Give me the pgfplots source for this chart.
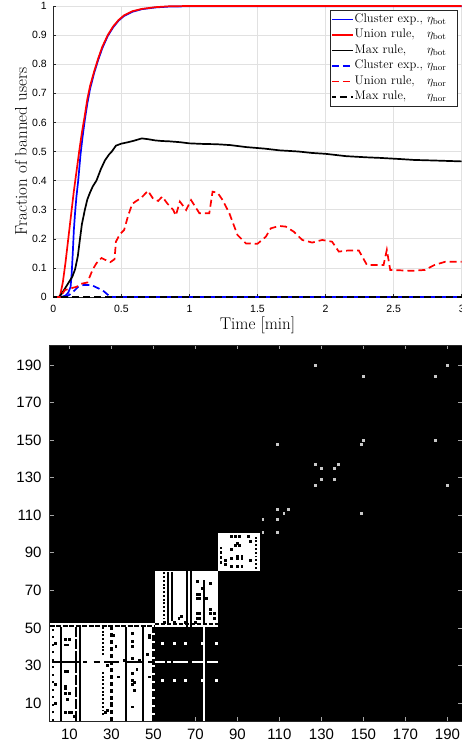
\documentclass[border=0pt]{standalone}
\usepackage{fontspec}
\usepackage{pgfplots}
\pgfplotsset{compat=1.18}
\newfontfamily\helv{Liberation Sans}
\definecolor{axgray}{RGB}{38,38,38}
\definecolor{gridgray}{RGB}{225,225,225}
\definecolor{mblue}{RGB}{0,0,255}
\definecolor{mred}{RGB}{255,0,0}
\definecolor{dotgray}{RGB}{200,200,200}
\newcommand{\pad}{\hspace*{9pt}}
\begin{document}
\begin{tikzpicture}
\begin{axis}[
  name=top, at={(0pt,0pt)}, anchor=south west,
  scale only axis, width=408.4pt, height=291pt,
  xmin=0, xmax=3, ymin=0, ymax=1,
  xtick={0,0.5,1,1.5,2,2.5,3}, xticklabels={0,0.5,1,1.5,2,2.5,3},
  ytick={0,0.1,0.2,0.3,0.4,0.5,0.6,0.7,0.8,0.9,1},
  yticklabels={0,0.1,0.2,0.3,0.4,0.5,0.6,0.7,0.8,0.9,1},
  axis x line*=bottom, axis y line*=left,
  axis line style={axgray, line width=0.6pt, -},
  tick align=inside, major tick length=3pt, tick style={axgray, line width=0.5pt},
  grid=major, grid style={gridgray, line width=0.6pt},
  ticklabel style={font=\helv\fontsize{10.5}{12}\selectfont},
  /pgf/number format/assume math mode=true,
  xticklabel style={yshift=-5pt}, yticklabel style={xshift=-3pt},
  xlabel={Time [min]}, ylabel={Fraction of banned users},
  label style={font=\fontsize{17}{20}\selectfont},
  xlabel style={at={(axis description cs:0.5,-0.0687)}, anchor=north, inner sep=0pt},
  ylabel style={at={(axis description cs:-0.0637,0.5)}, anchor=south, inner sep=0pt},
  legend style={at={(1,1)}, anchor=north east, xshift=-4pt, yshift=-4pt,
    draw=axgray, fill=white,
    font=\fontsize{12.5}{15}\selectfont, inner xsep=1pt, inner ysep=1.5pt,
    row sep=0pt, column sep=0pt,
    nodes={inner xsep=1pt, inner ysep=0.5pt, text height=10.3pt, text depth=4.2pt}},
  legend cell align=left,
  legend image code/.code={\draw[line width=1.7pt, #1] (0pt,0pt) -- (21pt,0pt);},
  clip=false,
]
\addplot[mblue, line width=1.7pt] coordinates {
(0,0) (0.06,0) (0.09,0.005) (0.11,0.015) (0.127,0.035) (0.135,0.08) (0.143,0.15)
(0.151,0.23) (0.16,0.29) (0.17,0.345) (0.183,0.40) (0.2,0.49) (0.215,0.55)
(0.232,0.61) (0.25,0.665) (0.27,0.715) (0.30,0.77) (0.33,0.815) (0.36,0.855)
(0.40,0.897) (0.44,0.927) (0.48,0.95) (0.52,0.966) (0.58,0.98) (0.65,0.989)
(0.75,0.995) (0.85,0.998) (1.0,0.999) (3,0.999)};
\addlegendentry{Cluster exp., $\eta_{\mathrm{bot}}$\pad}
\addplot[mred, line width=1.7pt] coordinates {
(0,0) (0.045,0) (0.05,0.005) (0.07,0.05) (0.09,0.12) (0.11,0.2) (0.13,0.28)
(0.15,0.36) (0.17,0.43) (0.19,0.5) (0.21,0.565) (0.23,0.62) (0.25,0.68)
(0.27,0.725) (0.30,0.775) (0.33,0.82) (0.36,0.86) (0.40,0.9) (0.44,0.93)
(0.48,0.952) (0.52,0.968) (0.58,0.982) (0.65,0.99) (0.75,0.996) (0.85,0.999)
(1.0,1) (3,1)};
\addlegendentry{\rlap{Union rule,}\phantom{Cluster exp.,} $\eta_{\mathrm{bot}}$\pad}
\addplot[black, line width=1.7pt] coordinates {
(0,0) (0.04,0) (0.06,0.01) (0.08,0.025) (0.10,0.04) (0.12,0.055) (0.14,0.07)
(0.16,0.095) (0.18,0.14) (0.195,0.196) (0.21,0.25) (0.232,0.30) (0.25,0.335)
(0.268,0.357) (0.29,0.38) (0.317,0.40) (0.35,0.44) (0.38,0.47) (0.41,0.49)
(0.43,0.50) (0.46,0.52) (0.5,0.527) (0.55,0.532) (0.6,0.538) (0.65,0.545)
(0.7,0.542) (0.75,0.538) (0.8,0.536) (0.85,0.535) (0.93,0.532) (1.0,0.528)
(1.1,0.526) (1.2,0.525) (1.3,0.522) (1.42,0.515) (1.55,0.51) (1.66,0.504)
(1.8,0.5) (1.9,0.495) (2.0,0.492) (2.15,0.484) (2.3,0.48) (2.4,0.478)
(2.55,0.474) (2.65,0.471) (2.8,0.469) (3.0,0.466)};
\addlegendentry{\rlap{Max rule,}\phantom{Cluster exp.,} $\eta_{\mathrm{bot}}$\pad}
\addplot[mblue, line width=1.7pt, dash pattern=on 7pt off 4pt] coordinates {
(0,0) (0.09,0) (0.12,0.008) (0.146,0.018) (0.183,0.035) (0.22,0.041)
(0.28,0.041) (0.33,0.03) (0.37,0.02) (0.415,0.002) (0.44,0) (3,0)};
\addlegendentry{Cluster exp., $\eta_{\mathrm{nor}}$\pad}
\addplot[mred, line width=1.7pt, dash pattern=on 7pt off 4pt] coordinates {
(0,0) (0.05,0) (0.086,0.024) (0.13,0.03) (0.171,0.035) (0.2,0.045) (0.232,0.048)
(0.25,0.05) (0.268,0.07) (0.29,0.095) (0.317,0.116) (0.354,0.134) (0.38,0.128)
(0.42,0.12) (0.45,0.13) (0.46,0.19) (0.488,0.215) (0.52,0.23) (0.55,0.28)
(0.58,0.32) (0.61,0.33) (0.645,0.34) (0.695,0.365) (0.73,0.34) (0.77,0.33)
(0.8,0.345) (0.84,0.32) (0.88,0.30) (0.90,0.28) (0.93,0.328) (0.976,0.299)
(1.012,0.333) (1.073,0.288) (1.146,0.288) (1.17,0.362) (1.207,0.358)
(1.244,0.333) (1.293,0.288) (1.353,0.213) (1.415,0.184) (1.5,0.183)
(1.561,0.207) (1.598,0.236) (1.658,0.244) (1.707,0.242) (1.768,0.224)
(1.829,0.196) (1.902,0.187) (1.975,0.196) (2.048,0.19) (2.097,0.156)
(2.17,0.16) (2.244,0.16) (2.304,0.11) (2.365,0.11) (2.426,0.11) (2.45,0.162)
(2.475,0.093) (2.634,0.09) (2.73,0.093) (2.80,0.11) (2.878,0.121) (3,0.121)};
\addlegendentry{\rlap{Union rule,}\phantom{Cluster exp.,} $\eta_{\mathrm{nor}}$\pad}
\addplot[black, line width=1.7pt, dash pattern=on 7pt off 4pt, dash phase=3pt] coordinates {
(0,0) (3,0)};
\addlegendentry{\rlap{Max rule,}\phantom{Cluster exp.,} $\eta_{\mathrm{nor}}$\pad}
\end{axis}

\begin{axis}[
  name=bot, at={(-3.8pt,-423.8pt)}, anchor=south west,
  scale only axis, width=412.65pt, height=375.6pt,
  xmin=0.5, xmax=197, ymin=0.5, ymax=200.5,
  axis background/.style={fill=black},
  xtick={10,30,...,190}, ytick={10,30,...,190},
  tick align=inside, major tick length=4pt, tick style={gray!70, line width=0.5pt},
  axis line style={axgray, line width=0.6pt},
  ticklabel style={font=\helv\fontsize{15}{18}\selectfont},
  /pgf/number format/assume math mode=true,
  xticklabel style={yshift=-5pt}, yticklabel style={xshift=-4.5pt},
  clip=true,
]
% white blocks
\addplot[fill=white, draw=none] coordinates {(0.5,0.5) (50.5,0.5) (50.5,52.5) (0.5,52.5)};
\addplot[fill=white, draw=none] coordinates {(50.5,50.5) (80.5,50.5) (80.5,80.5) (50.5,80.5)};
\addplot[fill=white, draw=none] coordinates {(80.5,80.5) (100.5,80.5) (100.5,100.5) (80.5,100.5)};
% black vertical lines in block A
\addplot[black, line width=2.1pt] coordinates {(6,0.5) (6,50.5)};
\addplot[black, line width=2.1pt] coordinates {(15,0.5) (15,50.5)};
\addplot[black, line width=2.1pt] coordinates {(37,0.5) (37,50.5)};
\addplot[black, line width=2.1pt] coordinates {(45,0.5) (45,50.5)};
\addplot[black, line width=2.1pt, dash pattern=on 10pt off 2pt] coordinates {(13,0.5) (13,50.5)};
\addplot[black, line width=2.1pt, dash pattern=on 6pt off 2pt] coordinates {(50,0.5) (50,50.5)};
\addplot[black, line width=2.1pt, dash pattern=on 4pt off 3pt] coordinates {(30,0.5) (30,50.5)};
\addplot[black, line width=2.1pt, dash pattern=on 1.88pt off 1.88pt] coordinates {(26,3.5) (26,27.5)};
\addplot[black, line width=2.1pt, dash pattern=on 1.88pt off 1.88pt] coordinates {(26,35.5) (26,50.5)};
\addplot[black, line width=2.1pt, dash pattern=on 1.88pt off 5.64pt] coordinates {(2,0.5) (2,50.5)};
% black horizontal lines in block A
\addplot[black, line width=1.88pt] coordinates {(1.5,32) (15.5,32)};
\addplot[black, line width=1.88pt] coordinates {(16.5,32) (18.5,32)};
\addplot[black, line width=1.88pt] coordinates {(21.5,32) (24.5,32)};
\addplot[black, line width=1.88pt] coordinates {(26.5,32) (33.5,32)};
\addplot[black, line width=1.88pt] coordinates {(37.5,32) (45.5,32)};
\addplot[black, line width=1.88pt] coordinates {(47.5,32) (50.5,32)};
\addplot[black, line width=1.88pt, dash pattern=on 5pt off 1.5pt] coordinates {(0.5,51) (50.5,51)};
% black lines in block B
\addplot[black, line width=2.1pt] coordinates {(57,51.5) (57,79.5)};
\addplot[black, line width=2.1pt] coordinates {(59,53.5) (59,79.5)};
\addplot[black, line width=2.1pt] coordinates {(66,50.5) (66,80.5)};
\addplot[black, line width=2.1pt] coordinates {(68,50.5) (68,80.5)};
\addplot[black, line width=2.1pt] coordinates {(74,52.5) (74,75.5)};
\addplot[black, line width=2.1pt, dash pattern=on 1.88pt off 1.88pt] coordinates {(55,54.5) (55,79.5)};
\addplot[black, line width=1.88pt, dash pattern=on 4pt off 2pt] coordinates {(50.5,52) (80.5,52)};
% black lines in block C
\addplot[black, line width=2.1pt, dash pattern=on 1.88pt off 1.88pt] coordinates {(99,81.5) (99,99.5)};
\addplot[black, line width=2.1pt, dash pattern=on 3pt off 2pt] coordinates {(82,84) (82,93)};
% black dots in the blocks
\addplot[only marks, mark=square*, mark size=0.95pt, black] coordinates {
(8,44) (10,44) (8,41) (9,41) (32,40) (40,47) (40,43) (40,34) (48,45) (48,46)
(8,27) (9,27) (40,26) (40,22) (41,21) (8,5) (10,5) (11,5) (40,8) (48,24) (50,24)
(8,18) (8,19) (8,15) (10,15) (28,30) (31,46) (33,24) (43,33) (47,36) (3,10)
(3,20) (3,42) (9,12) (30,10) (12,3) (27,5) (28,6) (40,20) (41,17) (42,28) (36,33) (40,40)
(71,75) (77,74) (71,68) (72,68) (71,66) (72,66) (71,58) (72,58) (71,55) (72,55)
(77,58) (79,55) (77,60) (79,58) (75,66) (62,55) (63,56) (55,53) (60,53) (65,53) (70,53) (73,71)
(87,99) (89,99) (91,99) (89,94) (91,94) (90,95) (87,92) (87,87) (90,87) (92,87)
(90,88) (92,88) (84,86) (84,84) (87,83) (90,83) (92,83) (95,99) (96,96) (96,86)};
% white lines and dots in the black region
\addplot[white, line width=2.1pt] coordinates {(74,0.5) (74,50.5)};
\addplot[white, line width=1.88pt] coordinates {(50.5,32) (55.5,32)};
\addplot[white, line width=1.88pt] coordinates {(56.5,32) (58.5,32)};
\addplot[white, line width=1.88pt] coordinates {(59.5,32) (66.5,32)};
\addplot[white, line width=1.88pt] coordinates {(68.5,32) (74.5,32)};
\addplot[white, line width=1.88pt] coordinates {(75.5,32) (80.5,32)};
\addplot[only marks, mark=square*, mark size=0.95pt, white] coordinates {
(54,22) (60,22) (65,22) (73,22) (80,22) (54,42) (60,42) (65,42) (73,42) (80,42)};
% isolated links
\addplot[only marks, mark=square*, mark size=0.95pt, dotgray] coordinates {
(127,190) (190,190) (150,184) (184,184) (109,148) (149,148) (150,150) (184,150)
(127,137) (138,137) (130,135) (136,135) (130,129) (136,129) (127,126) (190,126)
(109,113) (114,113) (112,111) (102,108) (109,108) (149,111) (102,101) (109,101)};
\end{axis}
\pgfresetboundingbox
\path[use as bounding box] (-53.3pt,297pt) rectangle (408.7pt,-452pt);
\end{tikzpicture}
\end{document}
